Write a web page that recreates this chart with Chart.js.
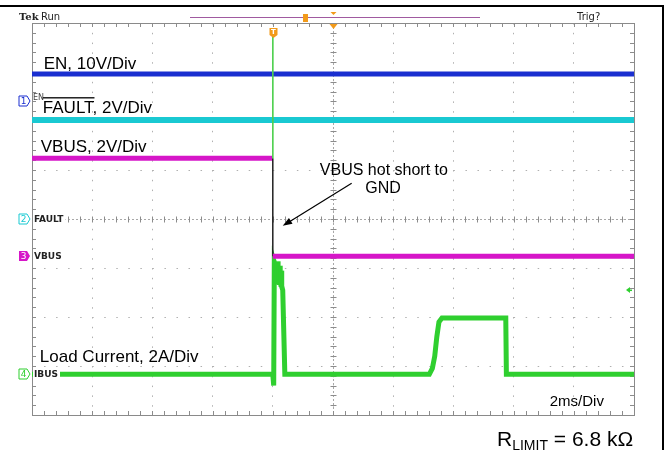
<!DOCTYPE html>
<html>
<head>
<meta charset="utf-8">
<script src="https://cdn.jsdelivr.net/npm/chart.js@4.4.0/dist/chart.umd.min.js"></script>
<style>
  html, body { margin: 0; padding: 0; background: #fff; }
  canvas { display: block; }
</style>
</head>
<body>
<canvas id="scope" width="669" height="450"></canvas>
<script>
// Scope screen: time in ms (2 ms/div, trigger at 0), vertical in screen divisions (0..8)
const timeRange = [-8, 12];
const divRange = [0, 8];

const enTime = [-8, 12];
const enLevel = [6.96, 6.96];

const faultTime = [-8, 12];
const faultLevel = [6.02, 6.02];

const vbusTime = [-8, 0, 0, 12];
const vbusLevel = [5.24, 5.24, 3.24, 3.24];

const ibusTime = [-8, 0, 0.03, 0.05, 0.33, 0.40, 5.20, 5.30, 5.38, 5.45, 5.52, 5.62, 7.74, 7.76, 12];
const ibusLevel = [0.83, 0.83, 0.60, 3.12, 2.55, 0.83, 0.83, 0.95, 1.20, 1.60, 1.90, 1.98, 1.98, 0.83, 0.83];

// noisy current burst right after the short (upper / lower envelope)
const burstTime = [0.05, 0.12, 0.19, 0.26, 0.31];
const burstHigh = [3.14, 3.10, 3.13, 3.04, 2.94];
const burstLow = [2.72, 2.68, 2.66, 2.62, 2.56];

// thin trigger trace crossing the upper channels
const trigTime = [0, 0];
const trigLevel = [7.85, 5.24];

// channel ground markers on the left edge
const chanNum = ["1", "2", "3", "4"];
const chanName = ["EN", "FAULT", "VBUS", "IBUS"];
const chanGround = [6.41, 4.0, 3.24, 0.83];
const chanColor = ["#1a2fd0", "#19c9d2", "#d616c8", "#2fcf2f"];

// annotations (text, time, div)
const labelText = ["EN, 10V/Div", "FAULT, 2V/Div", "VBUS, 2V/Div", "Load Current, 2A/Div", "2ms/Div"];
const labelTime = [-7.61, -7.64, -7.71, -7.74, 9.2];
const labelDiv = [7.06, 6.16, 5.37, 1.08, 0.18];

const toXY = (xs, ys) => xs.map((x, i) => ({ x, y: ys[i] }));

const scopeDecor = {
  id: "scopeDecor",
  beforeDatasetsDraw(chart) {
    const { ctx, chartArea: a, scales: { x, y } } = chart;
    ctx.save();
    // center cross (dotted) with minor ticks
    const cx = Math.round(x.getPixelForValue(2)) + 0.5;
    const cy = Math.round(y.getPixelForValue(4)) + 0.5;
    ctx.strokeStyle = "#a8a8a8";
    ctx.lineWidth = 1;
    ctx.setLineDash([2, 2]);
    ctx.beginPath();
    ctx.moveTo(a.left, cy); ctx.lineTo(a.right, cy);
    ctx.moveTo(cx, a.top); ctx.lineTo(cx, a.bottom);
    ctx.stroke();
    ctx.setLineDash([]);
    ctx.strokeStyle = "#8c8c8c";
    ctx.beginPath();
    for (let t = timeRange[0]; t <= timeRange[1] + 1e-6; t += 0.4) {
      const px = Math.round(x.getPixelForValue(t)) + 0.5;
      ctx.moveTo(px, cy - 3); ctx.lineTo(px, cy + 3);
      ctx.moveTo(px, a.top); ctx.lineTo(px, a.top + 4);
      ctx.moveTo(px, a.bottom); ctx.lineTo(px, a.bottom - 4);
    }
    for (let d = divRange[0]; d <= divRange[1] + 1e-6; d += 0.2) {
      const py = Math.round(y.getPixelForValue(d)) + 0.5;
      ctx.moveTo(cx - 3, py); ctx.lineTo(cx + 3, py);
      ctx.moveTo(a.left, py); ctx.lineTo(a.left + 4, py);
      ctx.moveTo(a.right, py); ctx.lineTo(a.right - 4, py);
    }
    ctx.stroke();
    // graticule frame
    ctx.strokeStyle = "#8a8a8a";
    ctx.strokeRect(Math.round(a.left) + 0.5, Math.round(a.top) + 0.5,
                   Math.round(a.width), Math.round(a.height));
    ctx.restore();
  },
  afterDatasetsDraw(chart) {
    const { ctx, chartArea: a, scales: { x, y } } = chart;
    ctx.save();

    // channel markers
    chanNum.forEach((n, i) => {
      const py = Math.round(y.getPixelForValue(chanGround[i]));
      const bx = a.left - 13;
      if (i > 0) {
        ctx.fillStyle = "#fff";
        ctx.font = "bold 9px 'DejaVu Sans'";
        ctx.fillRect(a.left + 1, py - 5, ctx.measureText(chanName[i]).width + 3, 10);
      }
      ctx.beginPath();
      ctx.moveTo(bx, py - 5); ctx.lineTo(bx + 8, py - 5); ctx.lineTo(bx + 11, py);
      ctx.lineTo(bx + 8, py + 5); ctx.lineTo(bx, py + 5); ctx.closePath();
      if (i === 2) {
        ctx.fillStyle = chanColor[i]; ctx.fill();
      } else {
        ctx.fillStyle = "#fff"; ctx.fill();
        ctx.strokeStyle = chanColor[i]; ctx.lineWidth = 1; ctx.stroke();
      }
      ctx.fillStyle = i === 2 ? "#fff" : chanColor[i];
      ctx.font = "9px 'DejaVu Sans'";
      ctx.textAlign = "center"; ctx.textBaseline = "middle";
      ctx.fillText(n, bx + 4.5, py + 0.5);
      ctx.textAlign = "left";
      if (i === 0) {
        ctx.fillStyle = "#444";
        ctx.font = "8px 'DejaVu Sans'";
        ctx.fillText(chanName[i], a.left + 1, py - 3);
      } else {
        ctx.fillStyle = "#222";
        ctx.font = "bold 9px 'DejaVu Sans'";
        ctx.fillText(chanName[i], a.left + 2, py + 0.5);
      }
    });

    // trace labels
    ctx.fillStyle = "#000";
    ctx.font = "17px 'Liberation Sans', Arial, sans-serif";
    ctx.textBaseline = "alphabetic";
    labelText.forEach((s, i) => {
      const px = x.getPixelForValue(labelTime[i]);
      const py = y.getPixelForValue(labelDiv[i]);
      if (i === 4) ctx.font = "15px 'Liberation Sans', Arial, sans-serif";
      ctx.fillText(s, px, py);
      if (i === 1) {
        const w = ctx.measureText("FAULT").width;
        ctx.fillRect(px, py - 16, w, 1.3);
      }
    });

    // annotation
    ctx.font = "16px 'Liberation Sans', Arial, sans-serif";
    ctx.textAlign = "center";
    ctx.fillStyle = "#000";
    ctx.fillText("VBUS hot short to", x.getPixelForValue(3.69), y.getPixelForValue(4.90));
    ctx.fillText("GND", x.getPixelForValue(3.66), y.getPixelForValue(4.53));
    const x0 = x.getPixelForValue(2.62), y0 = y.getPixelForValue(4.73);
    const x1 = x.getPixelForValue(0.33), y1 = y.getPixelForValue(3.86);
    const ang = Math.atan2(y1 - y0, x1 - x0);
    ctx.strokeStyle = "#000"; ctx.lineWidth = 1.2;
    ctx.beginPath(); ctx.moveTo(x0, y0); ctx.lineTo(x1 - 6 * Math.cos(ang), y1 - 6 * Math.sin(ang)); ctx.stroke();
    ctx.beginPath();
    ctx.moveTo(x1, y1);
    ctx.lineTo(x1 - 10 * Math.cos(ang - 0.35), y1 - 10 * Math.sin(ang - 0.35));
    ctx.lineTo(x1 - 10 * Math.cos(ang + 0.35), y1 - 10 * Math.sin(ang + 0.35));
    ctx.closePath(); ctx.fill();

    // trigger markers on the top edge
    const tx = Math.round(x.getPixelForValue(0)) + 0.5;
    ctx.fillStyle = "#f29a1a";
    ctx.beginPath();
    ctx.moveTo(tx - 4, a.top + 5); ctx.lineTo(tx + 4, a.top + 5); ctx.lineTo(tx + 4, a.top + 12);
    ctx.lineTo(tx, a.top + 15); ctx.lineTo(tx - 4, a.top + 12); ctx.closePath(); ctx.fill();
    ctx.fillStyle = "#fff"; ctx.font = "bold 7px 'DejaVu Sans'";
    ctx.textAlign = "center"; ctx.textBaseline = "middle";
    ctx.fillText("T", tx, a.top + 9.5);
    const mx = Math.round(x.getPixelForValue(2)) + 0.5;
    ctx.fillStyle = "#f29a1a";
    ctx.beginPath();
    ctx.moveTo(mx - 4, a.top + 1); ctx.lineTo(mx + 4, a.top + 1); ctx.lineTo(mx, a.top + 6);
    ctx.closePath(); ctx.fill();

    // small green offscreen arrow on the right
    const gy = y.getPixelForValue(2.55);
    ctx.fillStyle = "#2fcf2f";
    ctx.beginPath();
    ctx.moveTo(a.right - 8, gy); ctx.lineTo(a.right - 4, gy - 3); ctx.lineTo(a.right - 4, gy + 3);
    ctx.closePath(); ctx.fill();
    ctx.fillRect(a.right - 5, gy - 0.5, 3, 1.5);

    // top status bar
    ctx.textAlign = "left"; ctx.textBaseline = "alphabetic";
    ctx.fillStyle = "#222";
    ctx.font = "bold 10px 'DejaVu Serif'";
    ctx.fillText("Tek", 19, 20);
    ctx.font = "10px 'DejaVu Sans'";
    ctx.fillText("Run", 41, 20);
    ctx.fillText("Trig?", 577, 20);
    ctx.strokeStyle = "#a05aa0"; ctx.lineWidth = 1;
    ctx.beginPath(); ctx.moveTo(190, 17.5); ctx.lineTo(480, 17.5); ctx.stroke();
    ctx.fillStyle = "#f29a1a";
    ctx.fillRect(303, 14, 5, 8);
    ctx.beginPath(); ctx.moveTo(mx - 3, 12); ctx.lineTo(mx + 3, 12); ctx.lineTo(mx, 15); ctx.closePath(); ctx.fill();

    // outer frame
    ctx.fillStyle = "#000";
    ctx.fillRect(0, 5, 664, 2);
    ctx.fillRect(662, 5, 2, 445);

    // resistor value
    ctx.font = "21px 'Liberation Sans', Arial, sans-serif";
    let px = 497;
    ctx.fillText("R", px, 446);
    px += ctx.measureText("R").width;
    ctx.font = "14px 'Liberation Sans', Arial, sans-serif";
    ctx.fillText("LIMIT", px, 450);
    px += ctx.measureText("LIMIT").width;
    ctx.font = "21px 'Liberation Sans', Arial, sans-serif";
    ctx.fillText(" = 6.8 k\u03A9", px, 446);

    ctx.restore();
  }
};

new Chart(document.getElementById("scope"), {
  type: "line",
  data: {
    datasets: [
      { label: "trig", data: toXY(trigTime, trigLevel), borderColor: "#4fd04f", borderWidth: 1 },
      { label: "EN", data: toXY(enTime, enLevel), borderColor: chanColor[0], borderWidth: 5 },
      { label: "FAULT", data: toXY(faultTime, faultLevel), borderColor: chanColor[1], borderWidth: 6 },
      {
        label: "VBUS", data: toXY(vbusTime, vbusLevel), borderColor: chanColor[2], borderWidth: 5,
        segment: {
          borderColor: c => c.p0DataIndex === 1 ? "#222" : undefined,
          borderWidth: c => c.p0DataIndex === 1 ? 1.5 : undefined
        }
      },
      {
        type: "bar", label: "IBUS burst",
        data: burstTime.map((t, i) => ({ x: t, y: [burstLow[i], burstHigh[i]] })),
        backgroundColor: chanColor[3], borderWidth: 0, barThickness: 3.5, grouped: false
      },
      { label: "IBUS", data: toXY(ibusTime, ibusLevel), borderColor: chanColor[3], borderWidth: 5 }
    ]
  },
  options: {
    responsive: false,
    animation: false,
    devicePixelRatio: 1,
    layout: { padding: { left: 32, right: 35, top: 23, bottom: 35 } },
    plugins: { legend: { display: false }, tooltip: { enabled: false } },
    elements: { point: { radius: 0 }, line: { tension: 0, borderJoinStyle: "miter" } },
    scales: {
      x: {
        type: "linear", min: timeRange[0], max: timeRange[1], offset: false,
        ticks: { display: false, stepSize: 2 },
        grid: { color: "#b0b0b0", lineWidth: 1, drawTicks: false, offset: false },
        border: { display: false, dash: [1.5, 8.3] }
      },
      y: {
        type: "linear", min: divRange[0], max: divRange[1],
        ticks: { display: false, stepSize: 1 },
        grid: { color: "#b0b0b0", lineWidth: 1, drawTicks: false },
        border: { display: false, dash: [1.5, 10.54] }
      }
    }
  },
  plugins: [scopeDecor]
});
</script>
</body>
</html>
